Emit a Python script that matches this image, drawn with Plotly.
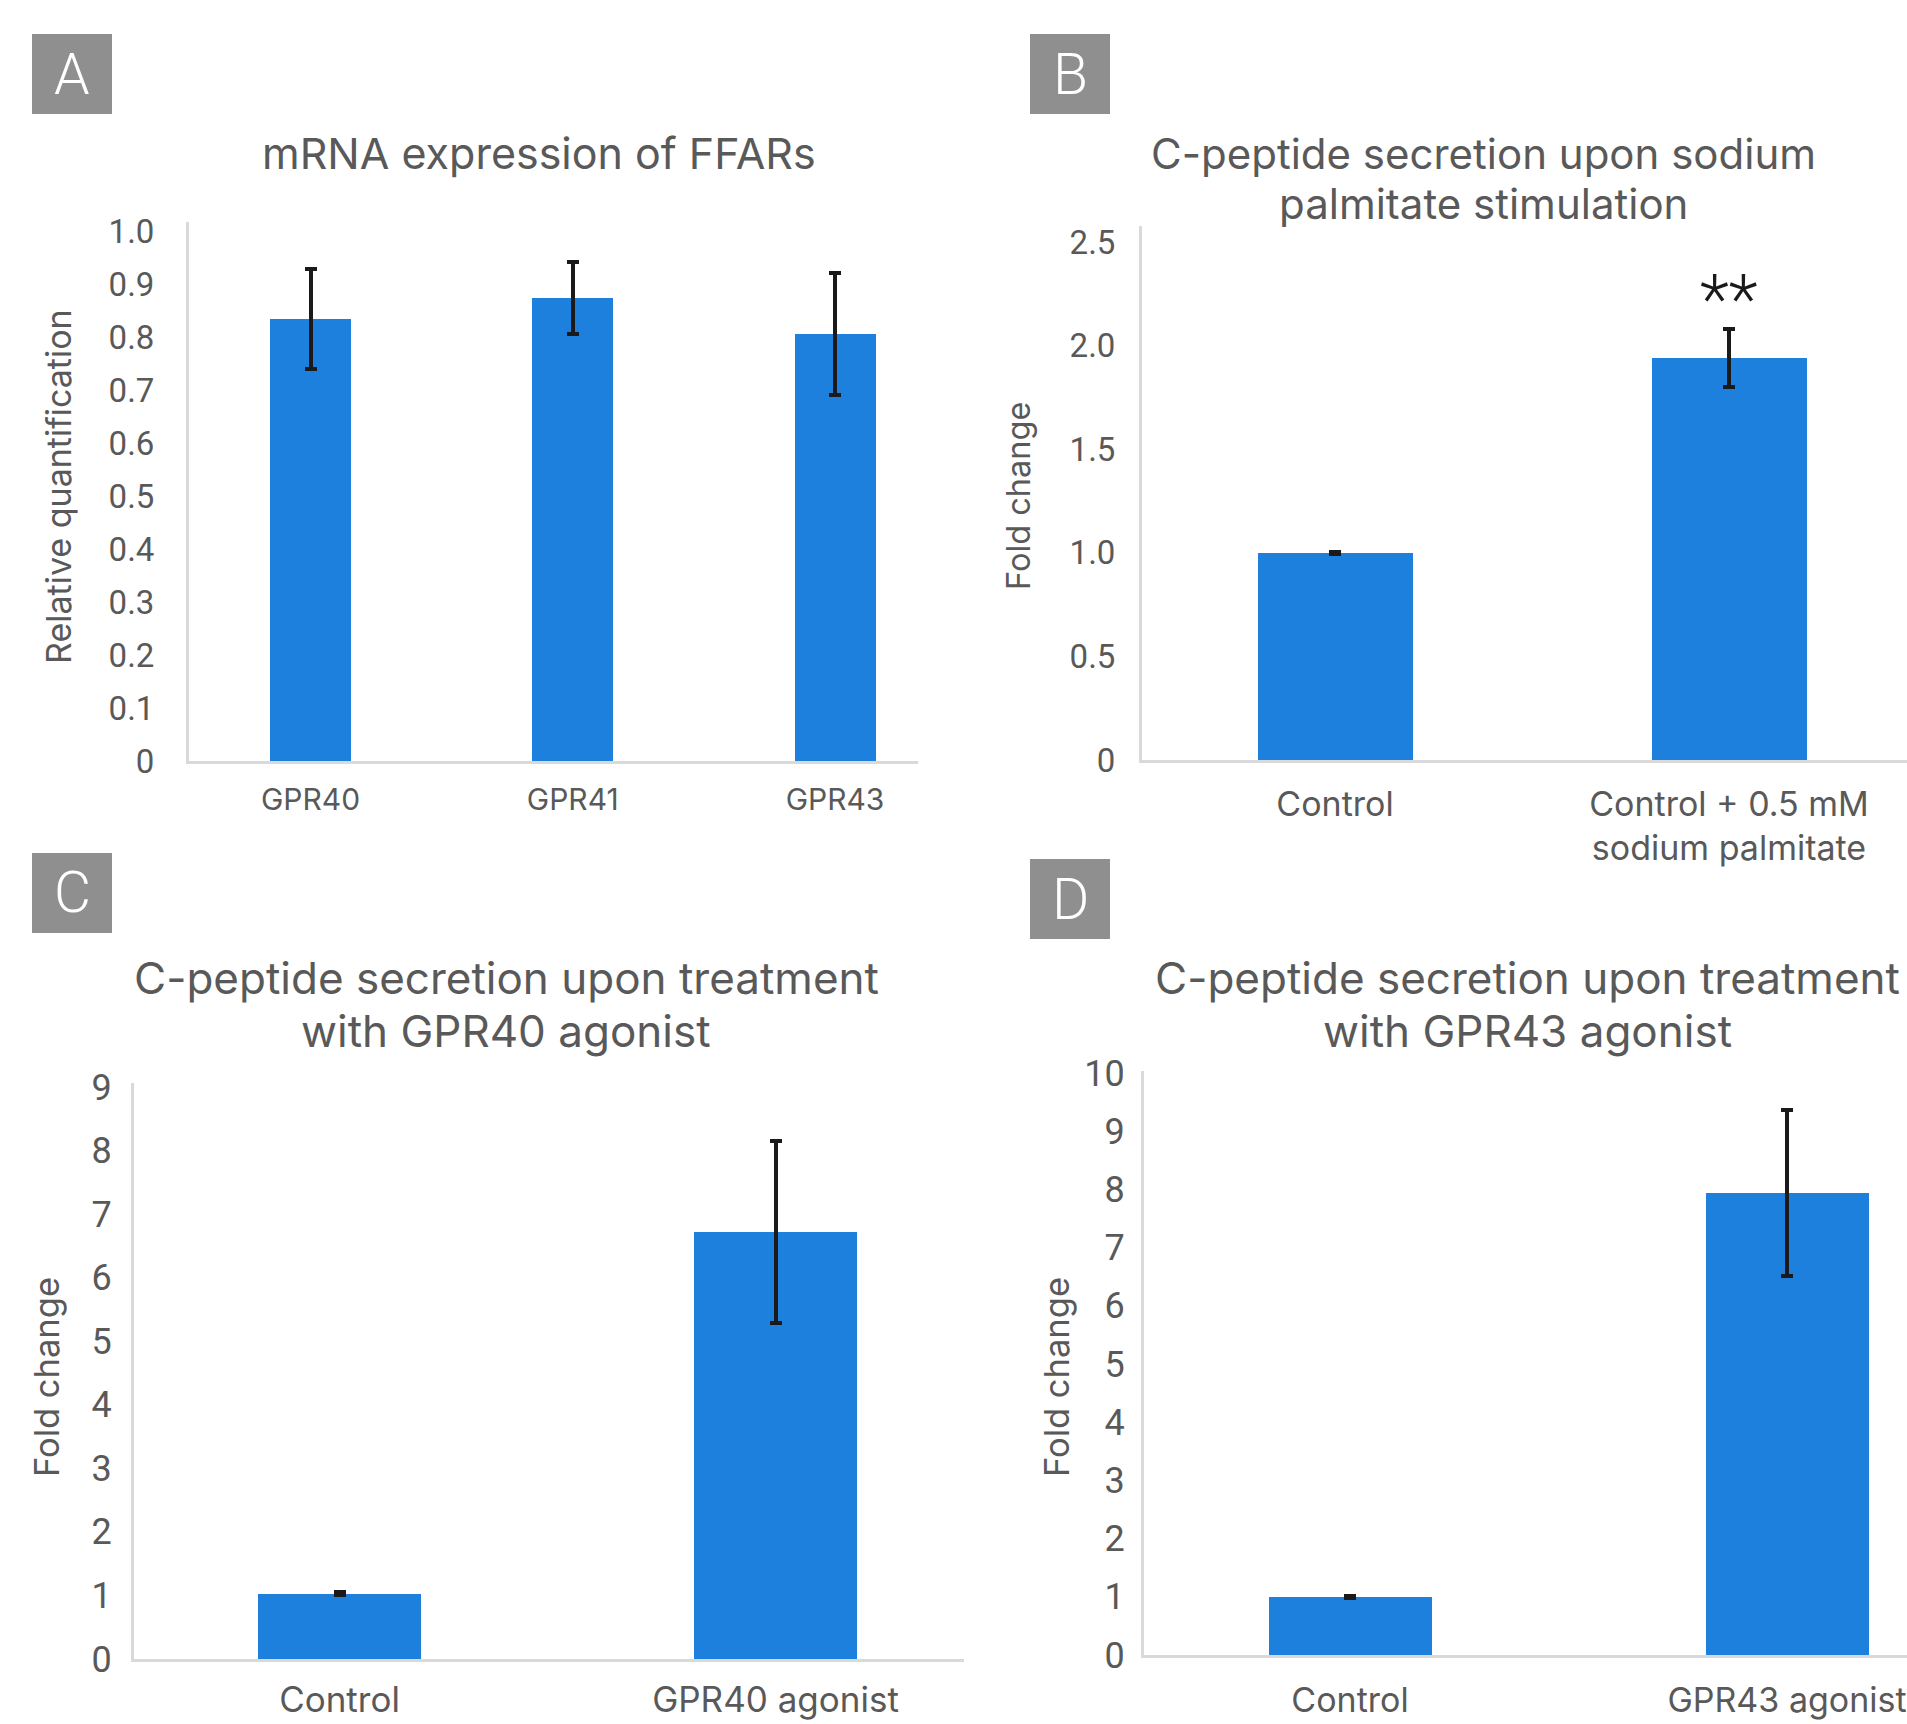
import plotly.graph_objects as go

W, H = 1907, 1724

# ---------------- data ----------------
a_categories = ["GPR40", "GPR41", "GPR43"]
a_values = [0.834, 0.873, 0.805]
a_errors = [0.094, 0.068, 0.115]
a_yticks = [0, 0.1, 0.2, 0.3, 0.4, 0.5, 0.6, 0.7, 0.8, 0.9, 1.0]
a_yticklabels = ["0", "0.1", "0.2", "0.3", "0.4", "0.5", "0.6", "0.7", "0.8", "0.9", "1.0"]

b_categories = ["Control", "Control + 0.5 mM<br>sodium palmitate"]
b_values = [1.0, 1.94]
b_errors = [0.005, 0.14]
b_yticks = [0, 0.5, 1.0, 1.5, 2.0, 2.5]
b_yticklabels = ["0", "0.5", "1.0", "1.5", "2.0", "2.5"]

c_categories = ["Control", "GPR40 agonist"]
c_values = [1.03, 6.72]
c_errors = [0.03, 1.43]
c_yticks = [0, 1, 2, 3, 4, 5, 6, 7, 8, 9]
c_yticklabels = ["0", "1", "2", "3", "4", "5", "6", "7", "8", "9"]

d_categories = ["Control", "GPR43 agonist"]
d_values = [1.0, 7.94]
d_errors = [0.02, 1.43]
d_yticks = [0, 1, 2, 3, 4, 5, 6, 7, 8, 9, 10]
d_yticklabels = ["0", "1", "2", "3", "4", "5", "6", "7", "8", "9", "10"]

titles = [["mRNA expression of FFARs"],
          ["C-peptide secretion upon sodium", "palmitate stimulation"],
          ["C-peptide secretion upon treatment", "with GPR40 agonist"],
          ["C-peptide secretion upon treatment", "with GPR43 agonist"]]
ytitles = ["Relative quantification", "Fold change", "Fold change", "Fold change"]
panel_letters = ["A", "B", "C", "D"]
significance = "**"

# ---------------- style / layout ----------------
NUMFONT = "Roboto"
TXTFONT = "Inter"
TXT = "#595959"
BAR = "#1d80dd"
AXIS = "#d9d9d9"
BOXC = "#8f8f8f"

panels = [
    dict(cats=a_categories, vals=a_values, errs=a_errors, yt=a_yticks, ytl=a_yticklabels, ymax=1.0,
         x0=189, x1=918, c0=310.5, c1=835, bw=81, y0=761, ytop=231, ltop=222,
         xfs=30, yfs=33, ystand=25, xstand=10,
         title_x=539, title_ys=[153], title_fs=43, ytitle_x=58, ytitle_y=487, ytitle_fs=34,
         box=(32, 34, 112, 114)),
    dict(cats=b_categories, vals=b_values, errs=b_errors, yt=b_yticks, ytl=b_yticklabels, ymax=2.5,
         x0=1142, x1=1907, c0=1335, c1=1729, bw=155, y0=760, ytop=242, ltop=226,
         xfs=34, yfs=33, ystand=17, xstand=12,
         title_x=1483, title_ys=[153, 204], title_fs=42, ytitle_x=1019, ytitle_y=496, ytitle_fs=32.5,
         box=(1030, 34, 1110, 114)),
    dict(cats=c_categories, vals=c_values, errs=c_errors, yt=c_yticks, ytl=c_yticklabels, ymax=9,
         x0=134, x1=964, c0=339.5, c1=775.5, bw=163, y0=1659, ytop=1087, ltop=1083,
         xfs=35, yfs=36, ystand=12, xstand=8,
         title_x=506, title_ys=[978, 1031], title_fs=44, ytitle_x=46, ytitle_y=1377, ytitle_fs=34.5,
         box=(32, 853, 112, 933)),
    dict(cats=d_categories, vals=d_values, errs=d_errors, yt=d_yticks, ytl=d_yticklabels, ymax=10,
         x0=1144, x1=1907, c0=1350, c1=1787, bw=163, y0=1655, ytop=1073, ltop=1071,
         xfs=34, yfs=36, ystand=9, xstand=13,
         title_x=1527, title_ys=[978, 1031], title_fs=44, ytitle_x=1056, ytitle_y=1377, ytitle_fs=34.5,
         box=(1030, 859, 1110, 939)),
]

fig = go.Figure()
shapes = []
annotations = []
layout = {}

for i, p in enumerate(panels):
    n = len(p["cats"])
    scale = (p["c1"] - p["c0"]) / (n - 1)
    xr = [-(p["c0"] - p["x0"]) / scale, (n - 1) + (p["x1"] - p["c1"]) / scale]
    width = p["bw"] / scale
    yr_top = p["ymax"] * (p["y0"] - p["ltop"]) / (p["y0"] - p["ytop"])
    xa = "x" if i == 0 else f"x{i+1}"
    ya = "y" if i == 0 else f"y{i+1}"
    fig.add_trace(go.Bar(
        x=p["cats"], y=p["vals"], xaxis=xa, yaxis=ya, width=width,
        marker=dict(color=BAR, line=dict(width=0)),
        error_y=dict(type="data", array=p["errs"], visible=True,
                     color="#1a1a1a", thickness=4, width=6),
        showlegend=False, hoverinfo="skip"))
    xkey = "xaxis" if i == 0 else f"xaxis{i+1}"
    ykey = "yaxis" if i == 0 else f"yaxis{i+1}"
    layout[xkey] = dict(
        domain=[p["x0"] / W, min(p["x1"] / W, 1.0)], anchor=ya, range=xr,
        type="category", showline=True, linecolor=AXIS, linewidth=3, automargin=False,
        showgrid=False, zeroline=False, ticks="",
        tickfont=dict(family=TXTFONT, size=p["xfs"], color=TXT),
        ticklabelstandoff=p["xstand"], fixedrange=True)
    layout[ykey] = dict(
        domain=[1 - p["y0"] / H, 1 - p["ltop"] / H], anchor=xa, range=[0, yr_top],
        showline=True, linecolor=AXIS, linewidth=3, showgrid=False, zeroline=False,
        automargin=False, ticks="", tickvals=p["yt"], ticktext=p["ytl"],
        tickfont=dict(family=NUMFONT, size=p["yfs"], color=TXT),
        ticklabelstandoff=p["ystand"], fixedrange=True)
    for line, ty in zip(titles[i], p["title_ys"]):
        annotations.append(dict(
            text=line, x=p["title_x"] / W, y=1 - ty / H, xref="paper", yref="paper",
            xanchor="center", yanchor="middle", showarrow=False,
            font=dict(family=TXTFONT, size=p["title_fs"], color=TXT)))
    annotations.append(dict(
        text=ytitles[i], x=p["ytitle_x"] / W, y=1 - p["ytitle_y"] / H,
        xref="paper", yref="paper", xanchor="center", yanchor="middle", textangle=-90,
        showarrow=False, font=dict(family=TXTFONT, size=p["ytitle_fs"], color=TXT)))
    bx0, by0, bx1, by1 = p["box"]
    shapes.append(dict(type="rect", xref="paper", yref="paper",
                       x0=bx0 / W, x1=bx1 / W, y0=1 - by1 / H, y1=1 - by0 / H,
                       fillcolor=BOXC, line=dict(width=0), layer="above"))
    annotations.append(dict(
        text=panel_letters[i], x=(bx0 + bx1) / 2 / W, y=1 - (by0 + by1) / 2 / H,
        xref="paper", yref="paper", xanchor="center", yanchor="middle", showarrow=False,
        font=dict(family=NUMFONT, size=57, color="white", weight=300)))

# significance marker over the treated bar in panel B
annotations.append(dict(
    text=significance, x=b_categories[1], y=2.22, xref="x2", yref="y2",
    xanchor="center", yanchor="middle", showarrow=False,
    font=dict(family=NUMFONT, size=68, color="#1a1a1a", weight=300)))

fig.update_layout(
    width=W, height=H, margin=dict(l=0, r=0, t=0, b=0, autoexpand=False),
    paper_bgcolor="white", plot_bgcolor="white",
    shapes=shapes, annotations=annotations, bargap=0, **layout)

fig.write_html("out.html", config=dict(displayModeBar=False),
               post_script="document.body.style.margin='0';document.body.style.overflow='hidden';")
